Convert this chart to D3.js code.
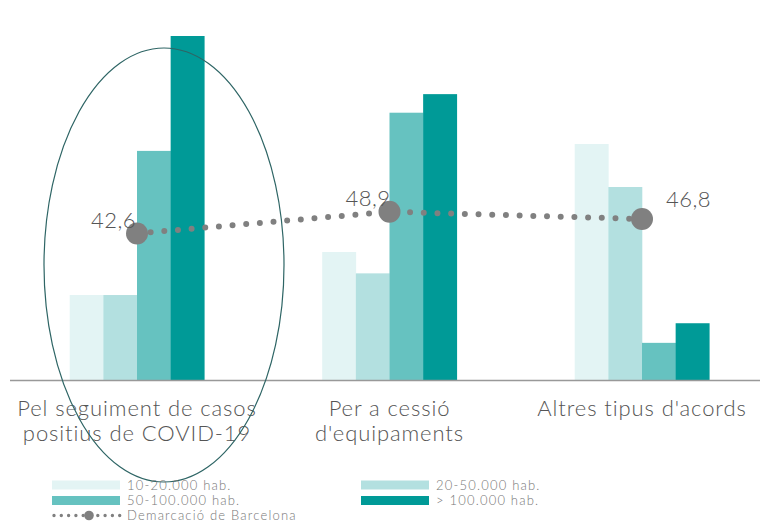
<!DOCTYPE html>
<html>
<head>
<meta charset="utf-8">
<script src="https://cdn.jsdelivr.net/npm/d3@7"></script>
<style>
  body { margin: 0; background: #fff; }
  text { font-family: 'Lato', 'Open Sans', sans-serif; font-weight: 300; fill: #555; }
</style>
</head>
<body>
<div id="chart"></div>
<script>
const categories = [
  ['Pel seguiment de casos', 'positius de COVID-19'],
  ['Per a cessió', "d'equipaments"],
  ["Altres tipus d'acords"]
]
const seriesNames = ['10-20.000 hab.', '20-50.000 hab.', '50-100.000 hab.', '> 100.000 hab.']
const s1020 = [24.7, 37.2, 68.6]
const s2050 = [24.7, 31.0, 56.1]
const s50100 = [66.6, 77.7, 10.8]
const s100 = [100, 83.1, 16.5]
const barcelona = [42.6, 48.9, 46.8]
const barcelonaLabels = ['42,6', '48,9', '46,8']
const barcelonaName = 'Demarcació de Barcelona'

const colors = ['#e3f4f4', '#b3e0e0', '#66c2c0', '#009a97']

const width = 760
const height = 521
const baseline = 380

const svg = d3
  .select('#chart')
  .append('svg')
  .attr('width', width)
  .attr('height', height)

const groupIdx = d3.range(categories.length)
const seriesData = [s1020, s2050, s50100, s100]

const xPositionScale = d3
  .scaleBand()
  .domain(groupIdx)
  .range([10.75, 768.25])
  .paddingInner(0.467)
  .paddingOuter(0.2335)

const xInner = d3
  .scaleBand()
  .domain(d3.range(seriesNames.length))
  .range([0, xPositionScale.bandwidth()])

const yPositionScale = d3
  .scaleLinear()
  .domain([0, 100])
  .range([baseline, 36])

// bars
const groups = svg
  .selectAll('.group')
  .data(groupIdx)
  .enter()
  .append('g')
  .attr('transform', d => 'translate(' + xPositionScale(d) + ',0)')

groups
  .selectAll('rect')
  .data(g => seriesData.map((s, i) => ({ i: i, v: s[g] })))
  .enter()
  .append('rect')
  .attr('x', d => xInner(d.i))
  .attr('width', xInner.bandwidth() + 0.3)
  .attr('y', d => yPositionScale(d.v))
  .attr('height', d => baseline - yPositionScale(d.v))
  .attr('fill', (d) => colors[d.i])

// baseline
svg
  .append('line')
  .attr('x1', 10)
  .attr('x2', 760)
  .attr('y1', baseline + 0.5)
  .attr('y2', baseline + 0.5)
  .attr('stroke', '#999')
  .attr('stroke-width', 1.6)

// category labels
const xAxis = d3.axisBottom(xPositionScale).tickSize(0).tickFormat('')
svg
  .append('g')
  .attr('class', 'axis x-axis')
  .attr('transform', 'translate(0,' + baseline + ')')
  .call(xAxis)
  .select('.domain')
  .remove()

svg
  .selectAll('.cat-label')
  .data(groupIdx)
  .enter()
  .append('text')
  .attr('class', 'cat-label')
  .attr('text-anchor', 'middle')
  .attr('x', d => xPositionScale(d) + xPositionScale.bandwidth() / 2)
  .attr('y', 416)
  .style('font-size', '22px')
  .style('letter-spacing', '0.9px')
  .selectAll('tspan')
  .data(d => categories[d])
  .enter()
  .append('tspan')
  .attr('x', function() { return this.parentNode.getAttribute('x') })
  .attr('dy', (d, i) => (i === 0 ? 0 : 25))
  .text(d => d)

// Barcelona dotted line
const cx = d => xPositionScale(d) + xPositionScale.bandwidth() / 2
const line = d3
  .line()
  .x(d => cx(d))
  .y(d => yPositionScale(barcelona[d]))

svg
  .append('path')
  .datum(groupIdx)
  .attr('d', line)
  .attr('fill', 'none')
  .attr('stroke', '#808080')
  .attr('stroke-width', 6)
  .attr('stroke-linecap', 'round')
  .attr('stroke-dasharray', '0,13.7')

svg
  .selectAll('.bcn-dot')
  .data(groupIdx)
  .enter()
  .append('circle')
  .attr('cx', d => cx(d))
  .attr('cy', d => yPositionScale(barcelona[d]))
  .attr('r', 11)
  .attr('fill', '#808080')

// value labels, last one sits to the right of its dot
const labelOffsets = [[-1, -5, 'end'], [1, -6, 'end'], [24, -12, 'start']]
svg
  .selectAll('.bcn-label')
  .data(groupIdx)
  .enter()
  .append('text')
  .attr('x', d => cx(d) + labelOffsets[d][0])
  .attr('y', d => yPositionScale(barcelona[d]) + labelOffsets[d][1])
  .attr('text-anchor', d => labelOffsets[d][2])
  .style('font-size', '22px')
  .style('letter-spacing', '0.5px')
  .text(d => barcelonaLabels[d])

// highlight ellipse
svg
  .append('ellipse')
  .attr('cx', 164)
  .attr('cy', 265)
  .attr('rx', 120)
  .attr('ry', 217)
  .attr('fill', 'none')
  .attr('stroke', '#2e6565')
  .attr('stroke-width', 1.2)

// legend
const legendPos = [[52, 485], [361, 485], [52, 500.5], [361, 500.5]]
const legend = svg
  .selectAll('.legend-item')
  .data(seriesNames)
  .enter()
  .append('g')
  .attr('transform', (d, i) => 'translate(' + legendPos[i][0] + ',' + legendPos[i][1] + ')')

legend
  .append('rect')
  .attr('x', 0)
  .attr('y', -4.5)
  .attr('width', 68)
  .attr('height', 9)
  .attr('fill', (d, i) => colors[i])

legend
  .append('text')
  .attr('x', 75)
  .attr('y', 4.5)
  .style('font-size', '13px')
  .style('letter-spacing', '1.2px')
  .style('fill', '#777')
  .text(d => d)

const lineLegend = svg.append('g').attr('transform', 'translate(52,515.5)')
lineLegend
  .append('line')
  .attr('x1', 2)
  .attr('x2', 68)
  .attr('stroke', '#808080')
  .attr('stroke-width', 3.4)
  .attr('stroke-linecap', 'round')
  .attr('stroke-dasharray', '0,7.3')
lineLegend
  .append('circle')
  .attr('cx', 37)
  .attr('r', 4.8)
  .attr('fill', '#808080')
lineLegend
  .append('text')
  .attr('x', 75)
  .attr('y', 4)
  .style('font-size', '13px')
  .style('letter-spacing', '1.2px')
  .style('fill', '#777')
  .text(barcelonaName)
</script>
</body>
</html>
